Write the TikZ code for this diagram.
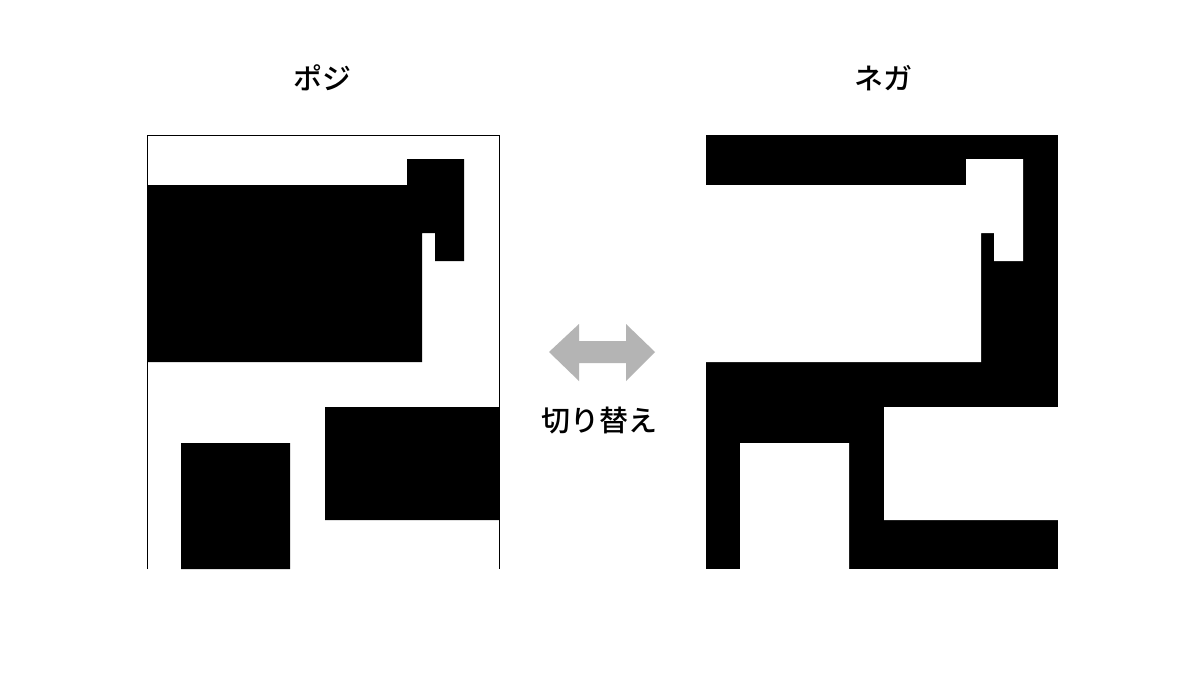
\documentclass[tikz,border=0pt]{standalone}
\usepackage{fontspec}
\newfontfamily\jpfont{Noto Sans CJK JP Medium}
\usetikzlibrary{positioning}
\definecolor{arrowgray}{RGB}{180, 180, 180}

% floor plan pieces, measured from the top left corner of a panel
\newcommand{\planshapes}{%
  (0,50) -- (260,50) -- (260,24) -- (317,24) -- (317,126) -- (288,126)
  -- (288,98) -- (275,98) -- (275,227) -- (0,227) -- cycle
  (178,272) rectangle (352,385)
  (34,308) rectangle (143,434)}

\begin{document}
\begin{tikzpicture}[x=1pt, y=-1pt,
  title/.style={font=\jpfont\fontsize{29}{34}\selectfont, inner sep=0pt}]

  \useasboundingbox[fill=white] (0,0) rectangle (1200,675);

  % Positive
  \node[title] (posi) at (322,78) {ポジ};
  \begin{scope}[shift={(147,135)}]
    \fill[black] \planshapes;
    \draw[line width=0.8pt] (0,434) -- (0,0) -- (352,0) -- (352,434);
  \end{scope}

  % Negative
  \node[title] (nega) at (883,78) {ネガ};
  \begin{scope}[shift={(706,135)}]
    \fill[black] (0,0) rectangle (352,434);
    \fill[white] \planshapes;
  \end{scope}

  % Switch arrow
  \fill[arrowgray] (549,352) -- (579,324) -- (579,341) -- (626,341) -- (626,324)
    -- (655,352) -- (626,381) -- (626,363) -- (579,363) -- (579,381) -- cycle;
  \node[title] (switch) at (599,421) {切り替え};

\end{tikzpicture}
\end{document}
